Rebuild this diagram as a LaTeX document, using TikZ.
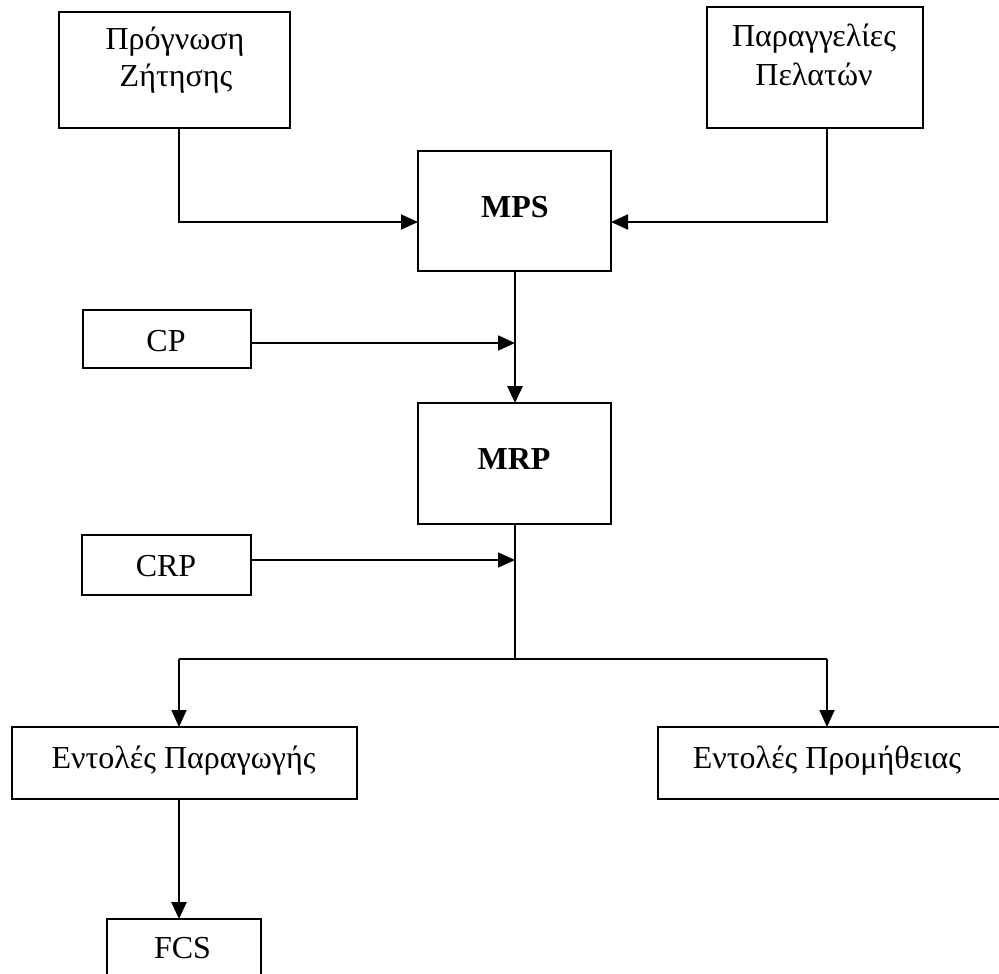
\documentclass[tikz,border=0pt]{standalone}
\usepackage{fontspec}
\setmainfont{Liberation Serif}
\usetikzlibrary{arrows.meta}
\begin{document}
\begin{tikzpicture}[x=1pt,y=-1pt]
\tikzset{
  box/.style={draw, line width=2pt, inner sep=0pt, outer sep=0pt},
  lbl/.style={anchor=base, inner sep=0pt, font=\fontsize{32}{38}\selectfont},
  link/.style={line width=1.8pt},
  heavy/.style={line width=2.7pt},
  head/.style={-{Triangle[length=17pt,width=15pt]}}
}
\clip (0,0) rectangle (999,974);

% boxes
\node[box, minimum width=231pt, minimum height=116pt] (fore)   at (174.5,70)   {};
\node[box, minimum width=216pt, minimum height=121pt] (orders) at (815,67.5)   {};
\node[box, minimum width=193pt, minimum height=120pt] (mps)    at (514.5,211)  {};
\node[box, minimum width=168pt, minimum height=58pt]  (cp)     at (167,339)    {};
\node[box, minimum width=193pt, minimum height=121pt] (mrp)    at (514.5,463.5){};
\node[box, minimum width=169pt, minimum height=60pt]  (crp)    at (166.5,565)  {};
\node[box, minimum width=345pt, minimum height=72pt]  (prod)   at (184.5,763)  {};
\node[box, minimum width=345pt, minimum height=72pt]  (proc)   at (830.5,763)  {};
\node[box, minimum width=154pt, minimum height=60pt]  (fcs)    at (184,949)    {};

% labels
\node[lbl] (foreA)   at (175,50)    {Πρόγνωση};
\node[lbl] (foreB)   at (176,87)    {Ζήτησης};
\node[lbl] (ordersA) at (814,47)    {Παραγγελίες};
\node[lbl] (ordersB) at (814,85)    {Πελατών};
\node[lbl] (mpsT)    at (515,217)   {\bfseries MPS};
\node[lbl] (cpT)     at (166,351)   {CP};
\node[lbl] (mrpT)    at (514,469)   {\bfseries MRP};
\node[lbl] (crpT)    at (166,576.5) {CRP};
\node[lbl] (prodT)   at (183.5,768) {Εντολές Παραγωγής};
\node[lbl] (procT)   at (827,768)   {Εντολές Προμήθειας};
\node[lbl] (fcsT)    at (182.5,958) {FCS};

% junction points
\coordinate (leftcol)  at (179,0);
\coordinate (rightcol) at (827,0);
\coordinate (midcol)   at (515,0);
\coordinate (inrow)    at (0,222);
\coordinate (cpjoin)   at (515,343);
\coordinate (crpjoin)  at (515,560);
\coordinate (splitL)   at (179,659);
\coordinate (splitM)   at (515,659);
\coordinate (splitR)   at (827,659);

% connectors
\draw[link, head] (fore.south -| leftcol) |- (mps.west |- inrow);
\draw[link, head] (orders.south -| rightcol) |- (mps.east |- inrow);
\draw[heavy, head] (mps.south -| midcol) -- (mrp.north -| midcol);
\draw[link, head] (cp.east |- cpjoin) -- (cpjoin);
\draw[link] (mrp.south -| midcol) -- (splitM);
\draw[link, head] (crp.east |- crpjoin) -- (crpjoin);
\draw[link] (splitL) -- (splitR);
\draw[link, head] (splitL) -- (prod.north -| splitL);
\draw[link, head] (splitR) -- (proc.north -| splitR);
\draw[heavy, head] (prod.south -| leftcol) -- (fcs.north -| leftcol);
\end{tikzpicture}
\end{document}
